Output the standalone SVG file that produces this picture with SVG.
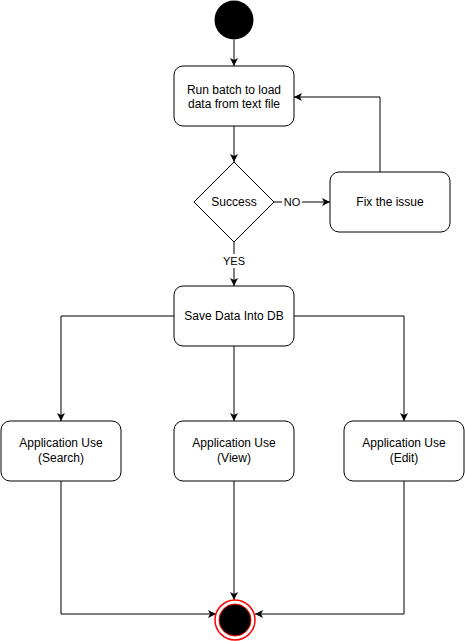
<svg xmlns="http://www.w3.org/2000/svg" width="465" height="641" viewBox="0 0 465 641">
<style>
.box{fill:#fff;stroke:#000;stroke-width:1}
.t{font-family:"Liberation Sans",Arial,sans-serif;font-size:12px;fill:#000;text-anchor:middle}
.lbl{font-family:"Liberation Sans",Arial,sans-serif;font-size:11px;fill:#000;text-anchor:middle}
.c{fill:none;stroke:#000;stroke-width:1}
</style>
<defs>
<marker id="arr" markerWidth="8" markerHeight="8" refX="8" refY="4" orient="auto" markerUnits="userSpaceOnUse">
<path d="M0,0 L8,4 L0,8 L2,4 Z" fill="#000"/>
</marker>
</defs>
<rect width="465" height="641" fill="#fff"/>
<g id="connectors">
<path class="c" d="M234 40 V66" marker-end="url(#arr)"/>
<path class="c" d="M234 126 V162" marker-end="url(#arr)"/>
<path class="c" d="M274 202 H330" marker-end="url(#arr)"/>
<path class="c" d="M380 172 V97 H294" marker-end="url(#arr)"/>
<path class="c" d="M234 242 V286" marker-end="url(#arr)"/>
<path class="c" d="M174 316 H61 V421" marker-end="url(#arr)"/>
<path class="c" d="M234 346 V421" marker-end="url(#arr)"/>
<path class="c" d="M294 316 H404 V421" marker-end="url(#arr)"/>
<path class="c" d="M61 481 V614 H216" marker-end="url(#arr)"/>
<path class="c" d="M234 481 V600" marker-end="url(#arr)"/>
<path class="c" d="M404 481 V614 H255" marker-end="url(#arr)"/>
<rect x="282" y="195" width="20" height="14" fill="#fff"/>
<text class="lbl" x="292" y="206">NO</text>
<rect x="222" y="254" width="24" height="14" fill="#fff"/>
<text class="lbl" x="234" y="265">YES</text>
</g>
<g id="start">
<circle cx="234" cy="20" r="19.5" fill="#000"/>
</g>
<g id="run-batch">
<rect class="box" x="174" y="66" width="120" height="60" rx="9"/>
<text class="t" x="234" y="93.5">Run batch to load</text>
<text class="t" x="234" y="108">data from text file</text>
</g>
<g id="success">
<polygon class="box" points="234,162 274,202 234,242 194,202"/>
<text class="t" x="234" y="206">Success</text>
</g>
<g id="fix">
<rect class="box" x="330" y="172" width="120" height="60" rx="9"/>
<text class="t" x="390" y="206">Fix the issue</text>
</g>
<g id="save">
<rect class="box" x="174" y="286" width="120" height="60" rx="9"/>
<text class="t" x="234" y="319.5">Save Data Into DB</text>
</g>
<g id="search">
<rect class="box" x="1" y="421" width="120" height="60" rx="9"/>
<text class="t" x="61" y="447">Application Use</text>
<text class="t" x="61" y="462">(Search)</text>
</g>
<g id="view">
<rect class="box" x="174" y="421" width="120" height="60" rx="9"/>
<text class="t" x="234" y="447">Application Use</text>
<text class="t" x="234" y="462">(View)</text>
</g>
<g id="edit">
<rect class="box" x="344" y="421" width="120" height="60" rx="9"/>
<text class="t" x="404" y="447">Application Use</text>
<text class="t" x="404" y="462">(Edit)</text>
</g>
<g id="end">
<circle cx="235" cy="620" r="20" fill="#fff" stroke="#ff0000" stroke-width="1.5"/>
<circle cx="235" cy="620" r="16" fill="#000" stroke="#ff0000" stroke-width="1"/>
</g>
</svg>
